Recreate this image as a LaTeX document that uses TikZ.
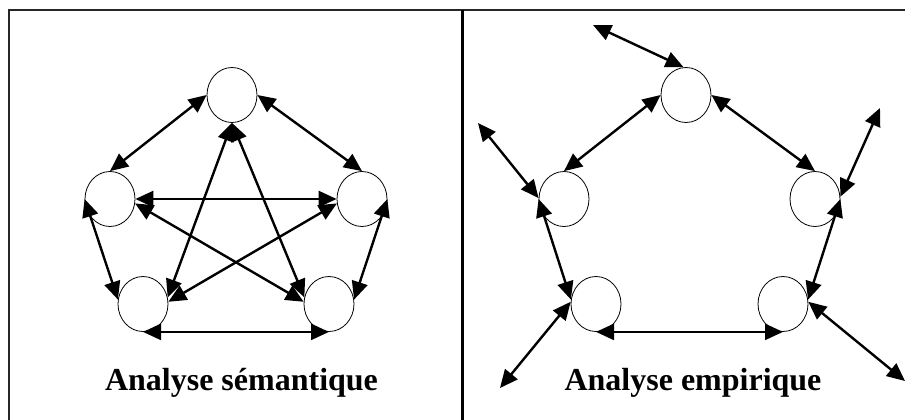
\documentclass[tikz,border=0pt]{standalone}
\usepackage{fontspec}
\setmainfont{Liberation Serif}
\usetikzlibrary{arrows.meta,shapes.geometric}
\tikzset{
  blob/.style={ellipse,draw,line width=0.8pt,minimum width=50pt,minimum height=55pt,inner sep=0pt},
  link/.style={line width=2.4pt,{Triangle[length=18pt,width=16pt]}-{Triangle[length=18pt,width=16pt]}},
  frameline/.style={line width=1.1pt,draw=black!85},
  caption/.style={font=\bfseries\fontsize{32}{36}\selectfont,anchor=base,inner sep=0pt}
}
\begin{document}
\begin{tikzpicture}[x=1pt,y=-1pt]
\useasboundingbox (0,0) rectangle (905,420);
% frame
\draw[frameline] (9,420) -- (9,10) -- (906,10);
\draw[line width=2.8pt] (462.5,10) -- (462.5,420);
% left panel
\node[blob] (T)  at (232,95) {};
\node[blob] (L)  at (110,199) {};
\node[blob] (R)  at (362,199) {};
\node[blob] (BL) at (143,304) {};
\node[blob] (BR) at (329,304) {};
\draw[link] (T.west) -- (L.north);
\draw[link] (T.east) -- (R.north);
\draw[link] (L.west) -- (BL.170);
\draw[link] (R.east) -- (BR.10);
\draw[link] (BL.south) -- (BR.south);
\draw[link] (L.east) -- (R.west);
\draw[link] (L.-10) -- (BR.175);
\draw[link] (R.-170) -- (BL.5);
\draw[link] (T.south) -- (BL.15);
\draw[link] (T.south) -- (BR.165);
\node[caption] (c1) at (241.5,390) {Analyse sémantique};
% right panel
\node[blob] (T2)  at (686,95) {};
\node[blob] (L2)  at (564,199) {};
\node[blob] (R2)  at (815,199) {};
\node[blob] (BL2) at (596,304) {};
\node[blob] (BR2) at (783,304) {};
\coordinate (e1) at (593,25);
\coordinate (e2) at (478,123);
\coordinate (e3) at (880,108);
\coordinate (e4) at (500,388);
\coordinate (e5) at (905,381);
\draw[link] (T2.95) -- (e1);
\draw[link] (T2.west) -- (L2.north);
\draw[link] (T2.east) -- (R2.north);
\draw[link] (L2.west) -- (BL2.170);
\draw[link] (R2.east) -- (BR2.10);
\draw[link] (BL2.south) -- (BR2.south);
\draw[link] (L2.178) -- (e2);
\draw[link] (R2.5) -- (e3);
\draw[link] (BL2.175) -- (e4);
\draw[link] (BR2.5) -- (e5);
\node[caption] (c2) at (693,390) {Analyse empirique};
\end{tikzpicture}
\end{document}
